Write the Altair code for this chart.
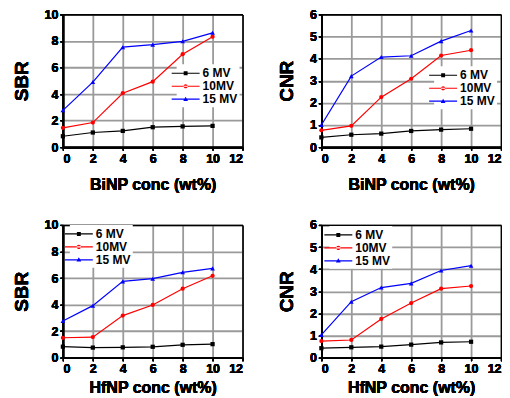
import altair as alt
import pandas as pd

conc = [0, 2, 4, 6, 8, 10]
series_names = ["6 MV", "10MV", "15 MV"]
series_colors = ["#000000", "#ff0000", "#0000ff"]
marker_shapes = ["square", "circle", "triangle-up"]

# SBR, BiNP
sbr_bi_6 = [0.82, 1.10, 1.22, 1.50, 1.56, 1.60]
sbr_bi_10 = [1.45, 1.85, 4.06, 4.93, 7.00, 8.32]
sbr_bi_15 = [2.77, 4.90, 7.53, 7.72, 7.97, 8.61]
# CNR, BiNP
cnr_bi_6 = [0.44, 0.56, 0.61, 0.73, 0.79, 0.83]
cnr_bi_10 = [0.76, 0.96, 2.26, 3.09, 4.14, 4.38]
cnr_bi_15 = [1.00, 3.21, 4.07, 4.13, 4.79, 5.27]
# SBR, HfNP
sbr_hf_6 = [0.83, 0.76, 0.78, 0.82, 0.97, 1.02]
sbr_hf_10 = [1.50, 1.55, 3.17, 3.97, 5.20, 6.17]
sbr_hf_15 = [2.77, 3.92, 5.75, 5.95, 6.43, 6.73]
# CNR, HfNP
cnr_hf_6 = [0.43, 0.47, 0.50, 0.59, 0.69, 0.72]
cnr_hf_10 = [0.75, 0.80, 1.75, 2.47, 3.12, 3.24]
cnr_hf_15 = [1.03, 2.53, 3.17, 3.36, 3.94, 4.16]

x_ticks = [0, 2, 4, 6, 8, 10, 12]

# legend symbols: a short line with the marker in its middle
legend_paths = [
    "M-2,-0.085H2V0.085H-2ZM-0.28,-0.28H0.28V0.28H-0.28Z",
    "M-2,-0.085H2V0.085H-2ZM-0.3,0A0.3,0.3 0 1,0 0.3,0A0.3,0.3 0 1,0 -0.3,0Z",
    "M-2,-0.085H2V0.085H-2ZM0,-0.36L0.34,0.24H-0.34Z",
]

FONT = "Liberation Sans"
PW, PH = 180, 133


def panel(vals, xtitle, ytitle, ymax, ystep, lx, ly, xtp, ytp):
    rows = []
    for name, v in zip(series_names, vals):
        for c, y in zip(conc, v):
            rows.append({"conc": c, "val": y, "series": name})
    df = pd.DataFrame(rows)
    yvals = list(range(0, ymax + 1, ystep))
    xenc = alt.X("conc:Q", scale=alt.Scale(domain=[0, 12], nice=False),
                 axis=alt.Axis(values=x_ticks, title=xtitle, titlePadding=xtp, orient="bottom"))
    yenc = alt.Y("val:Q", scale=alt.Scale(domain=[0, ymax], nice=False),
                 axis=alt.Axis(values=yvals, title=ytitle, titlePadding=ytp, orient="left"))
    layers = []
    for name, color, shp in zip(series_names, series_colors, marker_shapes):
        base = alt.Chart(df).transform_filter(alt.datum.series == name)
        layers.append(base.mark_line(color=color, strokeWidth=1.2).encode(x=xenc, y=yenc))
        layers.append(base.mark_point(shape=shp, filled=True, color=color, size=18 if shp != "triangle-up" else 22,
                                      opacity=1).encode(x=xenc, y=yenc))
    leg = alt.Legend(title=None, orient="none", legendX=lx, legendY=ly, symbolSize=196,
                     symbolStrokeWidth=0, labelFont=FONT, labelFontSize=12, labelFontWeight="bold",
                     labelColor="black", fillColor="white", padding=2, rowPadding=0, labelOffset=10,
                     symbolOpacity=1)
    cs = alt.Scale(domain=series_names, range=series_colors)
    ss = alt.Scale(domain=series_names, range=legend_paths)
    legend_layer = alt.Chart(df).mark_point(filled=True, size=0).encode(
        x=alt.X("conc:Q", axis=alt.Axis(orient="top", labels=False, ticks=False, grid=False, title=None)),
        y=alt.Y("val:Q", axis=alt.Axis(orient="right", labels=False, ticks=False, grid=False, title=None)),
        color=alt.Color("series:N", scale=cs, legend=leg),
        shape=alt.Shape("series:N", scale=ss, legend=leg),
    )
    return alt.layer(*layers, legend_layer).resolve_axis(x="independent", y="independent").properties(
        width=PW, height=PH)


p1 = panel([sbr_bi_6, sbr_bi_10, sbr_bi_15], "BiNP conc (wt%)", "SBR", 10, 2, 114, 50, 12, 13)
p2 = panel([cnr_bi_6, cnr_bi_10, cnr_bi_15], "BiNP conc (wt%)", "CNR", 6, 1, 113, 52, 12, 13)
p3 = panel([sbr_hf_6, sbr_hf_10, sbr_hf_15], "HfNP conc (wt%)", "SBR", 10, 2, 7, 0, 4, 13)
p4 = panel([cnr_hf_6, cnr_hf_10, cnr_hf_15], "HfNP conc (wt%)", "CNR", 6, 1, 8, 1, 4, 13)


def indep(c):
    return c.resolve_scale(color="independent", shape="independent").resolve_legend(
        color="independent", shape="independent")


chart = indep(alt.vconcat(
    indep(alt.hconcat(p1, p2, spacing=34)),
    indep(alt.hconcat(p3, p4, spacing=34)),
    spacing=26,
)).properties(padding={"left": 4, "top": 0, "right": 0, "bottom": 0}, background="white").configure_view(
    stroke=None).configure_axis(
    labelFont=FONT, labelFontWeight="bold", labelFontSize=12.5, labelColor="black",
    titleFont=FONT, titleFontWeight="bold", titleColor="black",
    gridColor="#9a9a9a", gridWidth=1.8, gridOpacity=1,
    domainColor="black", domainWidth=1.6, tickColor="black", tickSize=3, tickWidth=1.2,
    labelPadding=2,
).configure_axisX(titleFontSize=16).configure_axisY(titleFontSize=19)

chart.save("out.html", embed_options={"renderer": "svg", "actions": False})
